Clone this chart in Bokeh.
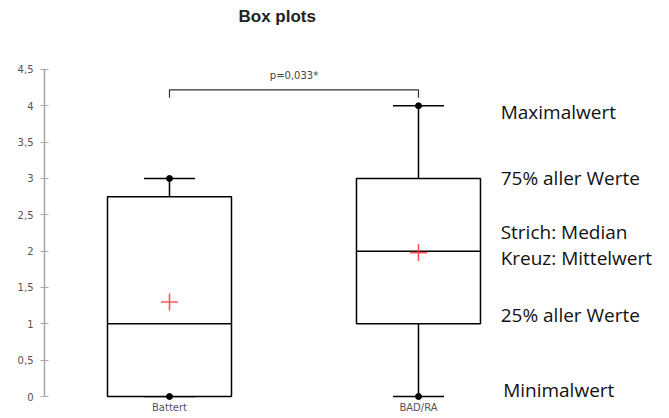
from bokeh.plotting import figure
from bokeh.models import FixedTicker, ColumnDataSource
from bokeh.core.properties import value
from bokeh.embed import file_html
from bokeh.resources import INLINE

# ---- data ----
categories = ["Battert", "BAD/RA"]
positions = [1, 2]
minimum = [0, 0]
q1 = [0, 1]
median = [1, 2]
q3 = [2.75, 3]
maximum = [3, 4]
mean = [1.3, 1.98]
p_text = "p=0,033*"
bracket_low, bracket_high = 4.11, 4.22
p_text_y = 4.42
y_ticks = [0, 0.5, 1, 1.5, 2, 2.5, 3, 3.5, 4, 4.5]
y_tick_labels = ["0", "0,5", "1", "1,5", "2", "2,5", "3", "3,5", "4", "4,5"]
notes = ["Maximalwert", "75% aller Werte", "Strich: Median", "Kreuz: Mittelwert", "25% aller Werte", "Minimalwert"]
notes_x = [2.33, 2.33, 2.33, 2.33, 2.33, 2.34]
notes_y = [3.91, 3.01, 2.26, 1.90, 1.12, 0.09]

BOX_W = 0.498
CAP_W = 0.205

p = figure(width=661, height=414, frame_width=617, frame_height=367,
           x_range=(0.498, 2.976), y_range=(-0.055, 4.995),
           output_backend="svg", toolbar_location=None,
           min_border_left=44, min_border_right=0, min_border_top=33, min_border_bottom=14,
           title="Box plots")
p.title.text_font = "Liberation Sans"
p.title.text_font_size = "17px"
p.title.text_font_style = "bold"
p.title.text_color = "#222222"
p.title.align = "left"
p.title.vertical_align = "top"
p.title.offset = 194
p.title.standoff = 12
p.outline_line_color = None
p.xgrid.visible = False
p.ygrid.visible = False
p.background_fill_color = "white"
p.border_fill_color = "white"

# y axis
p.yaxis.ticker = FixedTicker(ticks=y_ticks)
p.yaxis.bounds = (y_ticks[0], y_ticks[-1])
p.yaxis.major_label_overrides = {t: l for t, l in zip(y_ticks, y_tick_labels)}
p.yaxis.axis_line_color = "#a6a6a6"
p.yaxis.axis_line_width = 1.5
p.yaxis.major_tick_line_color = "#a6a6a6"
p.yaxis.major_tick_in = 4
p.yaxis.major_tick_out = 4
p.yaxis.minor_tick_line_color = None
p.yaxis.major_label_text_font = "DejaVu Sans"
p.yaxis.major_label_text_font_size = "10px"
p.yaxis.major_label_text_color = "#555555"
p.yaxis.major_label_standoff = 7

# x axis
p.xaxis.ticker = FixedTicker(ticks=positions)
p.xaxis.major_label_overrides = {pos: c for pos, c in zip(positions, categories)}
p.xaxis.axis_line_color = None
p.xaxis.major_tick_line_color = None
p.xaxis.minor_tick_line_color = None
p.xaxis.major_tick_in = 0
p.xaxis.major_tick_out = 0
p.xaxis.major_label_standoff = 1
p.xaxis.major_label_text_font = "DejaVu Sans"
p.xaxis.major_label_text_font_size = "10px"
p.xaxis.major_label_text_color = "#555555"

src = ColumnDataSource(dict(x=positions, mn=minimum, q1=q1, med=median, q3=q3, mx=maximum, mean=mean,
                            xl=[x - BOX_W / 2 for x in positions], xr=[x + BOX_W / 2 for x in positions],
                            cl=[x - CAP_W / 2 for x in positions], cr=[x + CAP_W / 2 for x in positions]))

# whiskers
p.segment(x0="x", x1="x", y0="q3", y1="mx", source=src, line_color="black", line_width=1.5)
p.segment(x0="x", x1="x", y0="q1", y1="mn", source=src, line_color="black", line_width=1.5)
p.segment(x0="cl", x1="cr", y0="mx", y1="mx", source=src, line_color="black", line_width=1.5)
p.segment(x0="cl", x1="cr", y0="mn", y1="mn", source=src, line_color="black", line_width=1.5)
# boxes
p.vbar(x="x", width=BOX_W, bottom="q1", top="q3", source=src, fill_color="white",
       line_color="black", line_width=1.5)
p.segment(x0="xl", x1="xr", y0="med", y1="med", source=src, line_color="black", line_width=1.5)
# end dots
p.scatter(x="x", y="mx", source=src, size=6, color="black")
p.scatter(x="x", y="mn", source=src, size=6, color="black")
# means
p.scatter(x="x", y="mean", source=src, marker="cross", size=17, line_color="#ff3b3b",
          line_width=1.6, line_alpha=0.85)

# significance bracket
p.line(x=[positions[0], positions[0], positions[1], positions[1]],
       y=[bracket_low, bracket_high, bracket_high, bracket_low], line_color="#333333", line_width=1.2)
p.text(x=[(positions[0] + positions[1]) / 2], y=[p_text_y], text=[p_text], text_align="center",
       text_baseline="middle", text_font=value("DejaVu Sans"), text_font_size="10px", text_color="#444444")

# side notes
p.text(x=notes_x, y=notes_y, text=notes, text_align="left", text_baseline="middle",
       text_font=value("Open Sans"), text_font_size="19px", text_color="#111111")

open("out.html", "w").write(file_html(p, INLINE))
